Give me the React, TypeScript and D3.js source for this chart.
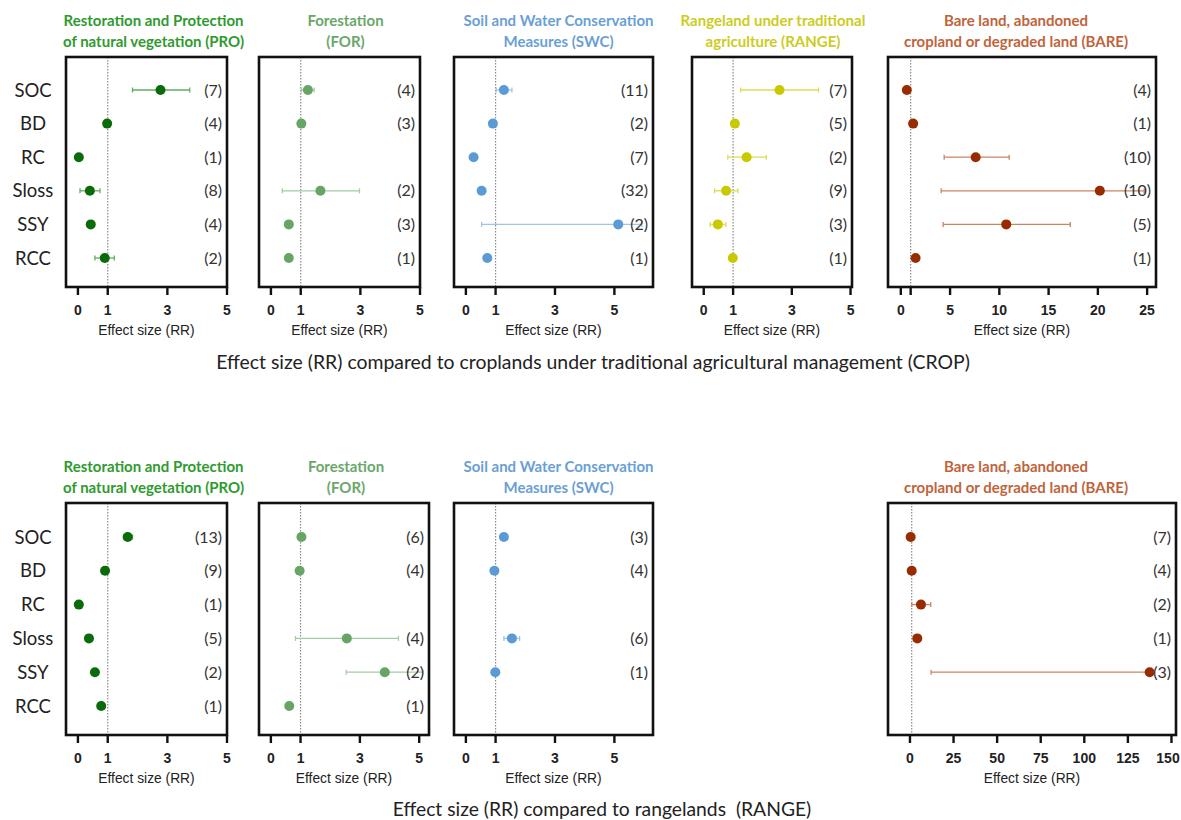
import React from "react";
import * as d3 from "d3";

const categories = ["SOC", "BD", "RC", "Sloss", "SSY", "RCC"];

// ---- Top row: compared to croplands (CROP) ----
const cropPROmean = [2.77, 0.98, 0.03, 0.4, 0.43, 0.9];
const cropPROlo = [1.83, null, null, 0.07, 0.36, 0.57];
const cropPROhi = [3.75, null, null, 0.74, 0.5, 1.22];
const cropPROn = ["(7)", "(4)", "(1)", "(8)", "(4)", "(2)"];

const cropFORmean = [1.24, 1.02, null, 1.66, 0.6, 0.6];
const cropFORlo = [1.02, null, null, 0.38, null, null];
const cropFORhi = [1.45, null, null, 2.97, null, null];
const cropFORn = ["(4)", "(3)", "", "(2)", "(3)", "(1)"];

const cropSWCmean = [1.28, 0.91, 0.26, 0.53, 5.13, 0.72];
const cropSWClo = [1.02, null, null, null, 0.53, null];
const cropSWChi = [1.55, null, null, null, 5.92, null];
const cropSWCn = ["(11)", "(2)", "(7)", "(32)", "(2)", "(1)"];

const cropRANGEmean = [2.58, 1.06, 1.46, 0.76, 0.48, 0.99];
const cropRANGElo = [1.26, null, 0.82, 0.37, 0.22, null];
const cropRANGEhi = [3.91, null, 2.13, 1.16, 0.75, null];
const cropRANGEn = ["(7)", "(5)", "(2)", "(9)", "(3)", "(1)"];

const cropBAREmean = [0.61, 1.25, 7.6, 20.2, 10.7, 1.5];
const cropBARElo = [null, null, 4.4, 4.1, 4.3, null];
const cropBAREhi = [null, null, 11.0, 24.7, 17.2, null];
const cropBAREn = ["(4)", "(1)", "(10)", "(10)", "(5)", "(1)"];

// ---- Bottom row: compared to rangelands (RANGE) ----
const rangePROmean = [1.67, 0.91, 0.03, 0.37, 0.57, 0.78];
const rangePROlo = [1.53, null, null, null, 0.5, null];
const rangePROhi = [1.83, null, null, null, 0.66, null];
const rangePROn = ["(13)", "(9)", "(1)", "(5)", "(2)", "(1)"];

const rangeFORmean = [1.03, 0.97, null, 2.56, 3.84, 0.62];
const rangeFORlo = [null, null, null, 0.83, 2.54, null];
const rangeFORhi = [null, null, null, 4.3, 5.13, null];
const rangeFORn = ["(6)", "(4)", "", "(4)", "(2)", "(1)"];

const rangeSWCmean = [1.28, 0.96, null, 1.55, 0.99, null];
const rangeSWClo = [null, null, null, 1.28, null, null];
const rangeSWChi = [null, null, null, 1.81, null, null];
const rangeSWCn = ["(3)", "(4)", "", "(6)", "(1)", ""];

const rangeBAREmean = [0.4, 1.0, 6.3, 4.2, 137.5, null];
const rangeBARElo = [null, null, 1.0, null, 12.1, null];
const rangeBAREhi = [null, null, 11.9, null, 139, null];
const rangeBAREn = ["(7)", "(4)", "(2)", "(1)", "(3)", ""];

const ticksSmall = [0, 1, 3, 5];
const ticksBareTop = [0, 5, 10, 15, 20, 25];
const ticksBareBottom = [0, 25, 50, 75, 100, 125, 150];

const titlePRO = ["Restoration and Protection", "of natural vegetation (PRO)"];
const titleFOR = ["Forestation", "(FOR)"];
const titleSWC = ["Soil and Water Conservation", "Measures (SWC)"];
const titleRANGE = ["Rangeland under traditional", "agriculture (RANGE)"];
const titleBARE = ["Bare land, abandoned", "cropland or degraded land (BARE)"];

const captionTop =
  "Effect size (RR) compared to croplands under traditional agricultural management (CROP)";
const captionBottom = "Effect size (RR) compared to rangelands  (RANGE)";
const axisLabel = "Effect size (RR)";

const STYLE = {
  PRO: { marker: "#0a6b0a", bar: "#5fae5f", title: "#2f9a2f" },
  FOR: { marker: "#67a567", bar: "#a2cda2", title: "#6aa86a" },
  SWC: { marker: "#5b9bd5", bar: "#9fc4e8", title: "#6a9fd6" },
  RANGE: { marker: "#c9c900", bar: "#dcdc55", title: "#cccc22" },
  BARE: { marker: "#982c00", bar: "#cd8462", title: "#c0643c" },
};

const CAL = "Lato, 'Open Sans', sans-serif";
const ARIAL = "'Liberation Sans', Arial, sans-serif";
const W = 1181;

type PanelProps = {
  x0: number;
  x1: number;
  y0: number;
  y1: number;
  rowTop: number;
  rowBottom: number;
  domain: [number, number];
  ticks: number[];
  extraTicks?: number[];
  mean: (number | null)[];
  lo: (number | null)[];
  hi: (number | null)[];
  n: string[];
  title: string[];
  titleY: number;
  titleDx?: number;
  style: { marker: string; bar: string; title: string };
};

function Panel(p: PanelProps) {
  const x = d3.scaleLinear().domain(p.domain).range([p.x0, p.x1]);
  const y = d3
    .scalePoint<string>()
    .domain(categories)
    .range([p.rowTop, p.rowBottom]);
  const cx = (p.x0 + p.x1) / 2 + (p.titleDx || 0);
  const allTicks = [...p.ticks, ...(p.extraTicks || [])];
  return (
    <g>
      {p.title.map((t, i) => (
        <text
          key={i}
          x={cx}
          y={p.titleY + i * 20.5}
          textAnchor="middle"
          fontFamily={CAL}
          fontSize={15}
          fontWeight={700}
          fill={p.style.title}
        >
          {t}
        </text>
      ))}
      <line
        x1={x(1)}
        x2={x(1)}
        y1={p.y0}
        y2={p.y1}
        stroke="#8a8a8a"
        strokeWidth={1.2}
        strokeDasharray="1.5,1.5"
      />
      {categories.map((c, i) => {
        const m = p.mean[i];
        const l = p.lo[i];
        const h = p.hi[i];
        const yy = y(c) as number;
        return (
          <g key={c}>
            {l != null && h != null && (
              <g stroke={p.style.bar} strokeWidth={1.3}>
                <line x1={x(l)} x2={x(h)} y1={yy} y2={yy} />
                <line x1={x(l)} x2={x(l)} y1={yy - 2.5} y2={yy + 2.5} />
                <line x1={x(h)} x2={x(h)} y1={yy - 2.5} y2={yy + 2.5} />
              </g>
            )}
            {m != null && (
              <circle cx={x(m)} cy={yy} r={5} fill={p.style.marker} />
            )}
            {p.n[i] && (
              <text
                x={p.x1 - 5}
                y={yy + 5.5}
                textAnchor="end"
                fontFamily={CAL}
                fontSize={16}
                fill="#333"
              >
                {p.n[i]}
              </text>
            )}
          </g>
        );
      })}
      <rect
        x={p.x0}
        y={p.y0}
        width={p.x1 - p.x0}
        height={p.y1 - p.y0}
        fill="none"
        stroke="#111"
        strokeWidth={2.6}
      />
      {allTicks.map((t) => (
        <line
          key={"t" + t}
          x1={x(t)}
          x2={x(t)}
          y1={p.y1}
          y2={p.y1 + 8}
          stroke="#111"
          strokeWidth={2.4}
        />
      ))}
      {p.ticks.map((t) => {
        const half = String(t).length * 4;
        const lx = Math.min(x(t), W - 1 - half);
        return (
          <text
            key={"l" + t}
            x={lx}
            y={p.y1 + 28}
            textAnchor="middle"
            fontFamily={ARIAL}
            fontSize={14}
            fontWeight={700}
            fill="#222"
          >
            {t}
          </text>
        );
      })}
      <text
        x={(p.x0 + p.x1) / 2}
        y={p.y1 + 48}
        textAnchor="middle"
        fontFamily={ARIAL}
        fontSize={13.8}
        fill="#222"
      >
        {axisLabel}
      </text>
    </g>
  );
}

export default function App() {
  const top = { y0: 57, y1: 287, rowTop: 90, rowBottom: 258, titleY: 26 };
  const bot = { y0: 503, y1: 735, rowTop: 537, rowBottom: 706, titleY: 472 };
  return (
    <svg
      width={W}
      height={820}
      style={{ position: "fixed", left: 0, top: 0, background: "#fff" }}
    >
      <rect x={0} y={0} width={W} height={820} fill="#fff" />
      {/* row labels */}
      {[top, bot].map((r, ri) => {
        const y = d3
          .scalePoint<string>()
          .domain(categories)
          .range([r.rowTop, r.rowBottom]);
        return categories.map((c) => (
          <text
            key={ri + c}
            x={33}
            y={(y(c) as number) + 6.5}
            textAnchor="middle"
            fontFamily={CAL}
            fontSize={18.5}
            fill="#222"
          >
            {c}
          </text>
        ));
      })}

      {/* top row */}
      <Panel {...top} x0={66} x1={227} domain={[-0.4, 5.0]} ticks={ticksSmall}
        mean={cropPROmean} lo={cropPROlo} hi={cropPROhi} n={cropPROn}
        title={titlePRO} titleDx={7} style={STYLE.PRO} />
      <Panel {...top} x0={259} x1={420} domain={[-0.4, 5.0]} ticks={ticksSmall}
        mean={cropFORmean} lo={cropFORlo} hi={cropFORhi} n={cropFORn}
        title={titleFOR} titleDx={6} style={STYLE.FOR} />
      <Panel {...top} x0={454} x1={653} domain={[-0.4, 6.3]} ticks={ticksSmall}
        mean={cropSWCmean} lo={cropSWClo} hi={cropSWChi} n={cropSWCn}
        title={titleSWC} titleDx={5} style={STYLE.SWC} />
      <Panel {...top} x0={692} x1={852} domain={[-0.4, 5.05]} ticks={ticksSmall}
        mean={cropRANGEmean} lo={cropRANGElo} hi={cropRANGEhi} n={cropRANGEn}
        title={titleRANGE} titleDx={1} style={STYLE.RANGE} />
      <Panel {...top} x0={888} x1={1156} domain={[-1.3, 25.9]} ticks={ticksBareTop}
        extraTicks={[1]}
        mean={cropBAREmean} lo={cropBARElo} hi={cropBAREhi} n={cropBAREn}
        title={titleBARE} titleDx={-6} style={STYLE.BARE} />

      <text x={593} y={369} textAnchor="middle" fontFamily={CAL} fontSize={19.4} fill="#222">
        {captionTop}
      </text>

      {/* bottom row */}
      <Panel {...bot} x0={66} x1={227} domain={[-0.4, 5.0]} ticks={ticksSmall}
        mean={rangePROmean} lo={rangePROlo} hi={rangePROhi} n={rangePROn}
        title={titlePRO} titleDx={7} style={STYLE.PRO} />
      <Panel {...bot} x0={259} x1={429} domain={[-0.4, 5.33]} ticks={ticksSmall}
        mean={rangeFORmean} lo={rangeFORlo} hi={rangeFORhi} n={rangeFORn}
        title={titleFOR} titleDx={2} style={STYLE.FOR} />
      <Panel {...bot} x0={454} x1={653} domain={[-0.4, 6.3]} ticks={ticksSmall}
        mean={rangeSWCmean} lo={rangeSWClo} hi={rangeSWChi} n={rangeSWCn}
        title={titleSWC} titleDx={5} style={STYLE.SWC} />
      <Panel {...bot} x0={888} x1={1176} domain={[-12.6, 152.6]} ticks={ticksBareBottom}
        extraTicks={[]}
        mean={rangeBAREmean} lo={rangeBARElo} hi={rangeBAREhi} n={rangeBAREn}
        title={titleBARE} titleDx={-16} style={STYLE.BARE} />

      <text x={602} y={816} textAnchor="middle" fontFamily={CAL} fontSize={19.3} fill="#222"
        style={{ whiteSpace: "pre" }}>
        {captionBottom}
      </text>
    </svg>
  );
}
